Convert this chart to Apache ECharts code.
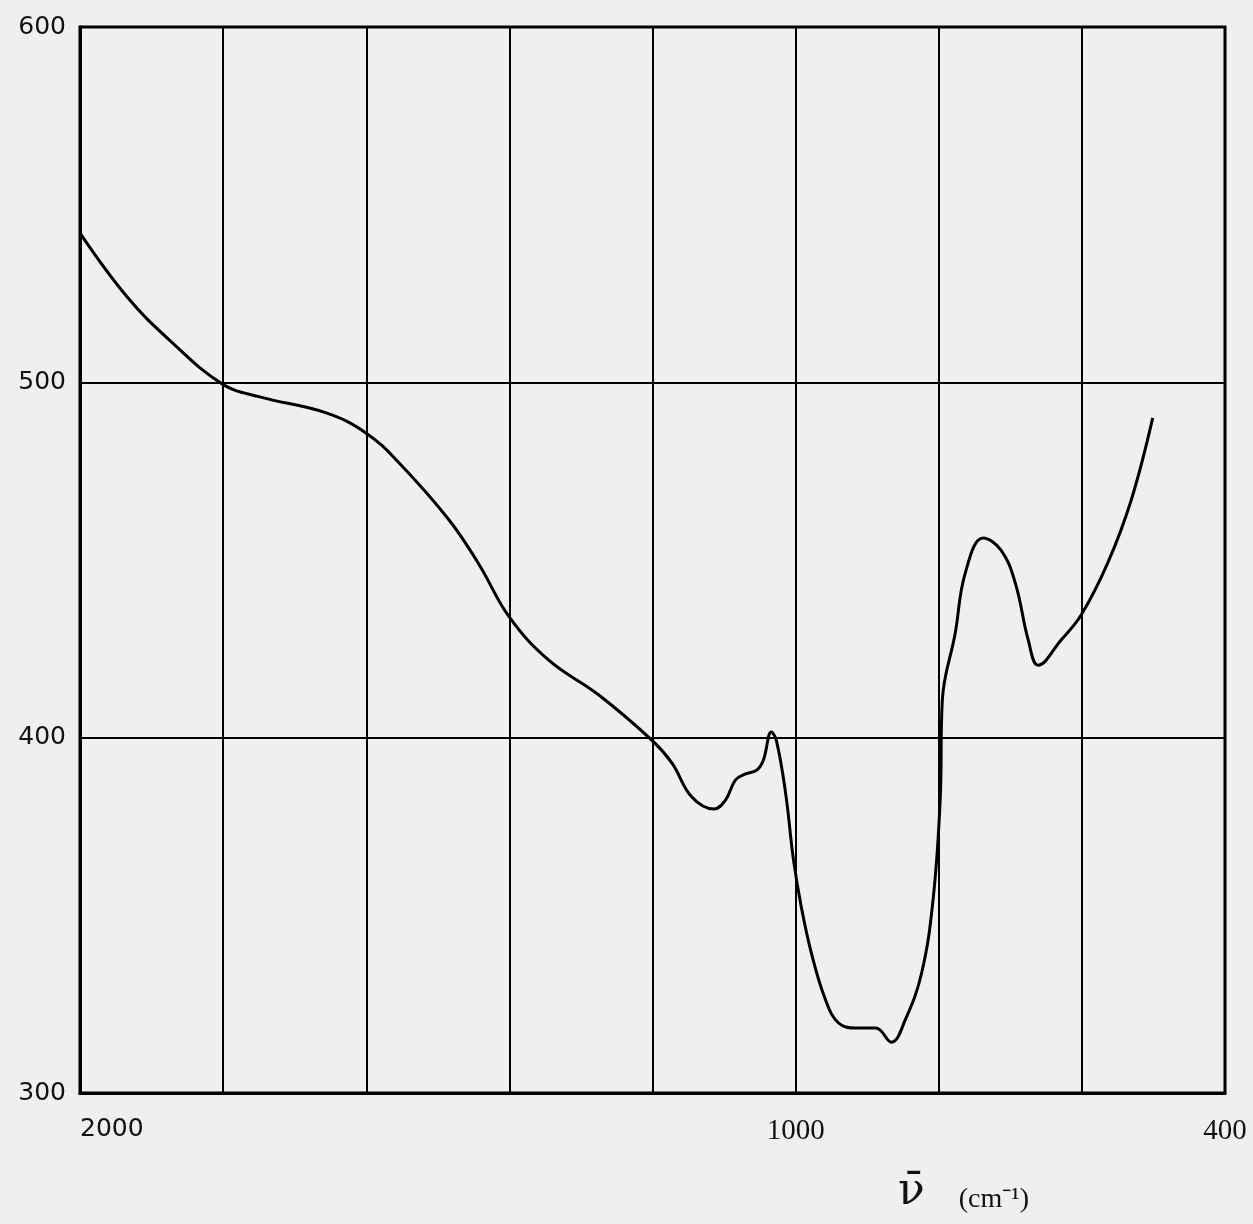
<!DOCTYPE html>
<html>
<head>
<meta charset="utf-8">
<script src="https://cdn.jsdelivr.net/npm/echarts@6/dist/echarts.min.js"></script>
<style>
html,body{margin:0;padding:0;background:#efefef;}
#chart{width:1253px;height:1224px;}
</style>
</head>
<body>
<div id="chart"></div>
<script>
// Wavenumber (cm^-1)
const wavenumber = [2000,1934,1875,1801,1749,1656,1600,1554,1484,1442,1400,1345,1275,1201,1173,1145,1114,1098,1084,1070,1054,1045,1034,1027,1014,1003,992,978,958,940,916,888,866,847,824,808,798,795,777,763,738,713,693,675,661,629,601,564,531,501];
// Signal values
const signal = [542.0,524.0,511.9,499.5,495.9,491.4,485.7,477.3,461.2,448.6,433.9,421.8,412.0,399.3,392.9,383.3,379.9,382.4,388.1,389.8,390.9,393.7,401.6,399.3,384.4,365.6,352.3,339.4,326.1,319.7,318.3,318.3,314.3,320.5,333.7,354.3,382.4,410.6,429.4,446.3,456.2,452.8,443.5,427.5,420.4,427.5,434.5,449.1,466.9,490.0];
const xLabels = [2000, 1000, 400];
const yLabels = [300, 400, 500, 600];

const data = wavenumber.map((w, i) => [w, signal[i]]);

const chart = echarts.init(document.getElementById('chart'));
chart.setOption({
  backgroundColor: '#efefef',
  animation: false,
  title: {
    left: 893, top: 1166,
    text: '{v|ν̄}{u|(cm⁻¹)}',
    textStyle: {
      fontWeight: 'normal',
      rich: {
        v: {fontFamily: 'DejaVu Serif', fontSize: 44, fontWeight: 'normal', color: '#111'},
        u: {fontFamily: 'Liberation Serif', fontSize: 28, fontWeight: 'normal', color: '#111', padding: [14, 0, 0, 34]}
      }
    }
  },
  grid: {left: 80, right: 28, top: 27, bottom: 131, show: true, borderColor: '#000', borderWidth: 3, outerBoundsMode: 'none', containLabel: false},
  xAxis: {
    type: 'value', inverse: true, min: 400, max: 2000, interval: 200,
    axisLine: {show: true, lineStyle: {color: '#000', width: 3}},
    axisTick: {show: false},
    splitLine: {show: true, lineStyle: {color: '#000', width: 2}},
    axisLabel: {
      margin: 24, alignMaxLabel: 'left', alignMinLabel: 'center',
      formatter: v => xLabels.includes(v) ? (v === 2000 ? '{s|' + v + '}' : '{r|' + v + '}') : '',
      rich: {
        s: {fontFamily: 'DejaVu Sans', fontSize: 25, color: '#111'},
        r: {fontFamily: 'Liberation Serif', fontSize: 29, color: '#111'}
      }
    }
  },
  yAxis: {
    type: 'value', min: 300, max: 600, interval: 100,
    axisLine: {show: true, lineStyle: {color: '#000', width: 3}},
    axisTick: {show: false},
    splitLine: {show: true, lineStyle: {color: '#000', width: 2}},
    axisLabel: {
      margin: 14, fontFamily: 'DejaVu Sans', fontSize: 25, color: '#111',
      formatter: v => yLabels.includes(v) ? String(v) : ''
    }
  },
  series: [{
    type: 'line', data: data, smooth: 0.4, showSymbol: false,
    lineStyle: {color: '#000', width: 3}
  }]
});
</script>
</body>
</html>
